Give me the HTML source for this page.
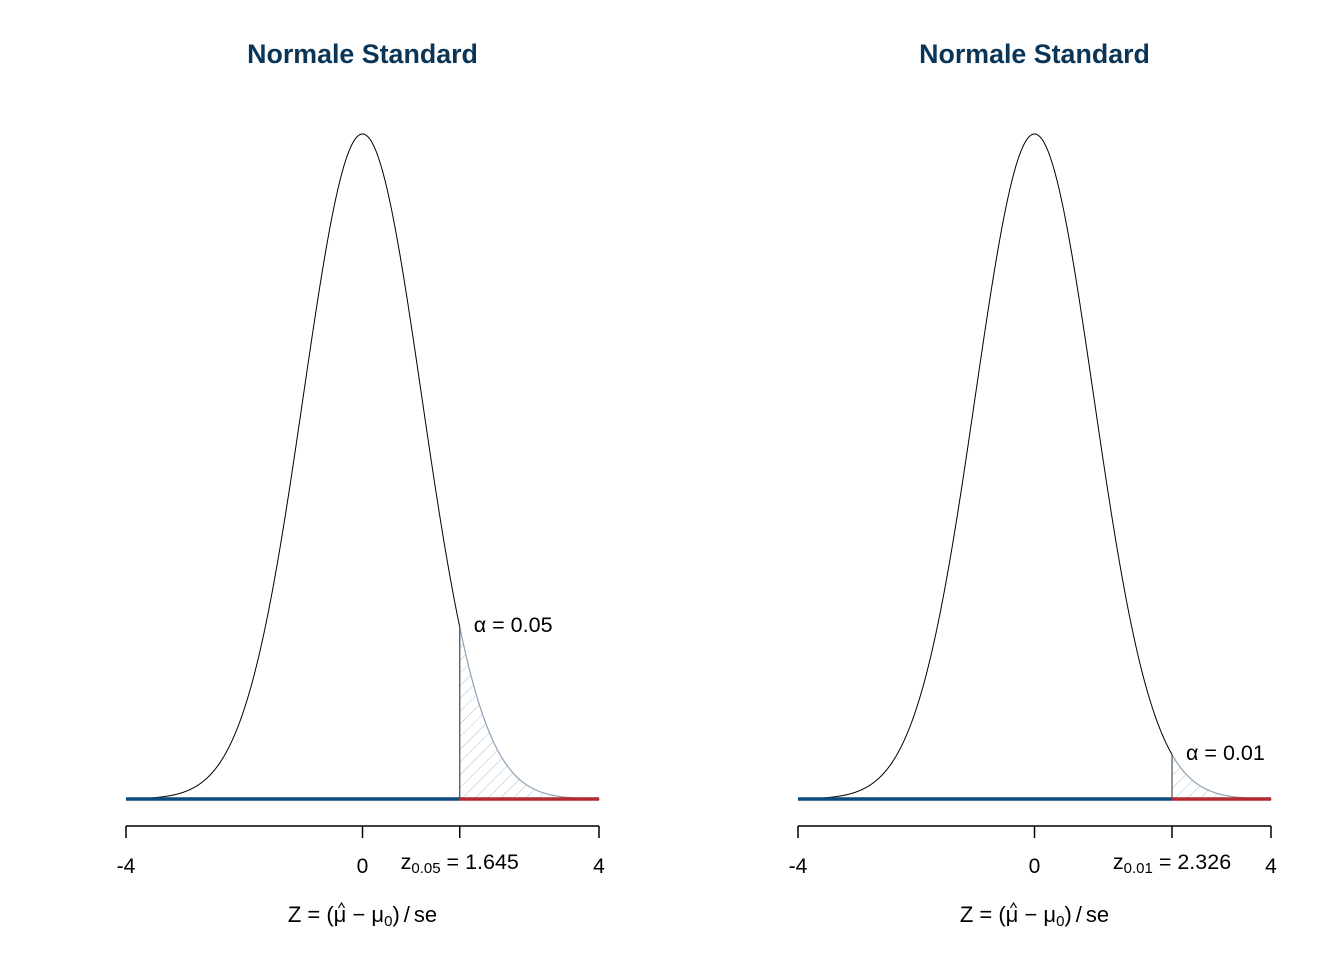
<!DOCTYPE html>
<html><head><meta charset="utf-8"><style>
body{margin:0;background:#fff}
svg text{font-family:"Liberation Sans",sans-serif}
</style></head><body>
<svg id="s" width="1344" height="960" xmlns="http://www.w3.org/2000/svg">
<defs><pattern id="h" patternUnits="userSpaceOnUse" width="9" height="9" patternTransform="rotate(45)">
<line x1="0" y1="0" x2="0" y2="9" stroke="#a9c2da" stroke-width="1"/></pattern></defs>
</svg>
<script>
var s=document.getElementById('s'),NS='http://www.w3.org/2000/svg';
function el(t,a,txt){var e=document.createElementNS(NS,t);for(var k in a)e.setAttribute(k,a[k]);if(txt!==undefined)e.innerHTML=txt;s.appendChild(e);return e;}
function f(x){return Math.exp(-x*x/2)/Math.sqrt(2*Math.PI);}
function plot(x0,zc,zl,al,ay){
 var sc=473/8,X=function(x){return x0+(x+4)*sc},Y=function(d){return 799-d*1667};
 var p='';for(var x=-4,i=0;x<=zc+0.0001;x+=0.01,i++){p+=(i?'L':'M')+X(x).toFixed(2)+' '+Y(f(x)).toFixed(2);}
 p+='L'+X(zc).toFixed(2)+' '+Y(f(zc)).toFixed(2);
 var q='M'+X(zc)+' 799';for(var x=zc;x<=4.0001;x+=0.01)q+='L'+X(x).toFixed(2)+' '+Y(f(x)).toFixed(2);q+='L'+X(4)+' 799Z';
 el('path',{d:q,fill:'url(#h)',stroke:'#8fa3b5','stroke-width':1.2});
 el('path',{d:p,fill:'none',stroke:'#000','stroke-width':1});
 el('line',{x1:X(zc),y1:Y(f(zc)),x2:X(zc),y2:799,stroke:'#444','stroke-width':1});
 el('line',{x1:X(-4),y1:799,x2:X(zc),y2:799,stroke:'#0d4a7d','stroke-width':3.5});
 el('line',{x1:X(zc),y1:799,x2:X(4),y2:799,stroke:'#b22a30','stroke-width':3.5});
 el('line',{x1:X(-4),y1:826,x2:X(4),y2:826,stroke:'#000','stroke-width':1.5});
 [-4,0,zc,4].forEach(function(v){el('line',{x1:X(v),y1:826,x2:X(v),y2:838,stroke:'#000','stroke-width':1.5});});
 el('text',{x:X(-4),y:873,'font-size':21,'text-anchor':'middle'},'-4');
 el('text',{x:X(0),y:873,'font-size':21,'text-anchor':'middle'},'0');
 el('text',{x:X(4),y:873,'font-size':21,'text-anchor':'middle'},'4');
 el('text',{x:X(zc),y:869,'font-size':21.5,'text-anchor':'middle'},'z<tspan font-size="15" dy="4">'+zl+'</tspan><tspan dy="-4"> = '+zc.toFixed(3)+'</tspan>');
 el('text',{x:X(zc)+14,y:ay,'font-size':21.5},'α = '+al);
 el('text',{x:X(0),y:63,'font-size':26.8,'font-weight':'bold','text-anchor':'middle',fill:'#0b3557'},'Normale Standard');
 el('text',{x:X(0),y:922,'font-size':22,'text-anchor':'middle'},'Z = (μ − μ<tspan font-size="15" dy="4">0</tspan><tspan dy="-4">)</tspan><tspan dx="4">/</tspan><tspan dx="4">se</tspan>');
 var cx=X(0)-21;
 el('path',{d:'M'+(cx-3)+' 908 L'+cx+' 903 L'+(cx+3)+' 908',fill:'none',stroke:'#000','stroke-width':1.2});
}
plot(126,1.645,'0.05','0.05',632);
plot(798,2.326,'0.01','0.01',760);
</script>
</body></html>
